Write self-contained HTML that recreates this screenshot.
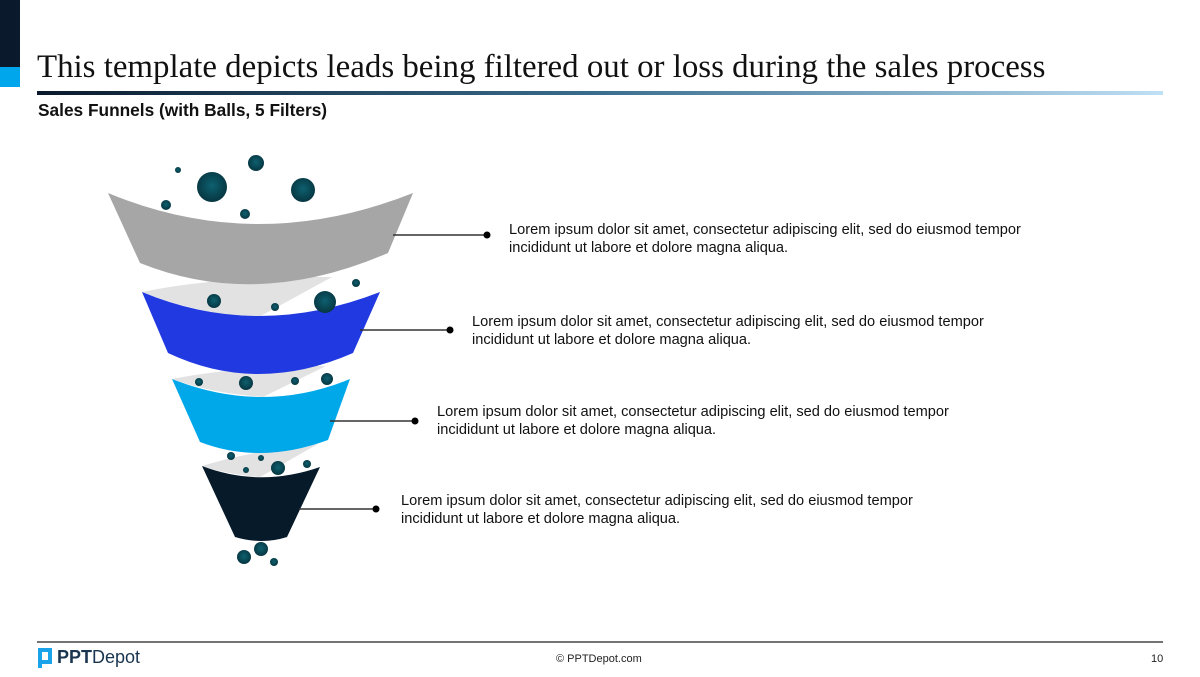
<!DOCTYPE html>
<html><head><meta charset="utf-8"><style>
body{margin:0;width:1200px;height:677px;background:#fff;position:relative;overflow:hidden;font-family:"Liberation Sans",sans-serif;}
.t{position:absolute;font-size:14.6px;line-height:18px;color:#111;white-space:nowrap}
</style></head><body>
<div style="position:absolute;left:0;top:0;width:20px;height:67px;background:#0a1a2c"></div>
<div style="position:absolute;left:0;top:67px;width:20px;height:20px;background:#00a6eb"></div>
<div style="position:absolute;left:37px;top:49px;font-family:'Liberation Serif',serif;font-size:32.9px;color:#111;white-space:nowrap">This template depicts leads being filtered out or loss during the sales process</div>
<div style="position:absolute;left:37px;top:91px;width:1126px;height:4px;background:linear-gradient(90deg,#0a1a2c,#3a6e8e 50%,#bfe0f5)"></div>
<div style="position:absolute;left:38px;top:100px;font-size:17.3px;font-weight:bold;color:#111;white-space:nowrap">Sales Funnels (with Balls, 5 Filters)</div>
<svg style="position:absolute;left:0;top:0" width="1200" height="677">
<defs><radialGradient id="b" cx="50%" cy="45%" r="55%"><stop offset="0" stop-color="#0e6070"/><stop offset="1" stop-color="#063640"/></radialGradient></defs>
<g fill="#e2e2e2">
<path d="M142,292 Q220,276 332,277 L257,318 Q190,312 142,292Z"/>
<path d="M172,379 Q240,366 326,366 L263,397 Q210,393 172,379Z"/>
<path d="M202,466 Q250,451 318,444 L260,477 Q225,474 202,466Z"/>
</g>
<path d="M108,193 Q257,255 413,193 L388,253 Q257,310 140,263 Z" fill="#a6a6a6"/>
<path d="M142,292 Q257,340 380,292 L353,353 Q257,395 168,353 Z" fill="#2139e0"/>
<path d="M172,379 Q263,415 350,379 L328,440 Q260,465 200,442 Z" fill="#00a8ea"/>
<path d="M202,466 Q260,488 320,467 L287,537 Q262,545 235,537 Z" fill="#061a2a"/>
<g fill="url(#b)">
<circle cx="178" cy="170" r="3"/><circle cx="256" cy="163" r="8"/><circle cx="212" cy="187" r="15"/><circle cx="303" cy="190" r="12"/><circle cx="166" cy="205" r="5"/><circle cx="245" cy="214" r="5"/><circle cx="356" cy="283" r="4"/><circle cx="214" cy="301" r="7"/><circle cx="275" cy="307" r="4"/><circle cx="325" cy="302" r="11"/><circle cx="199" cy="382" r="4"/><circle cx="246" cy="383" r="7"/><circle cx="295" cy="381" r="4"/><circle cx="327" cy="379" r="6"/><circle cx="231" cy="456" r="4"/><circle cx="261" cy="458" r="3"/><circle cx="278" cy="468" r="7"/><circle cx="246" cy="470" r="3"/><circle cx="307" cy="464" r="4"/><circle cx="244" cy="557" r="7"/><circle cx="261" cy="549" r="7"/><circle cx="274" cy="562" r="4"/>
</g>
<g stroke="#333" stroke-width="1.5" fill="#000">
<line x1="393" y1="235" x2="487" y2="235"/><circle cx="487" cy="235" r="3.5" stroke="none"/>
<line x1="360" y1="330" x2="450" y2="330"/><circle cx="450" cy="330" r="3.5" stroke="none"/>
<line x1="330" y1="421" x2="415" y2="421"/><circle cx="415" cy="421" r="3.5" stroke="none"/>
<line x1="299" y1="509" x2="376" y2="509"/><circle cx="376" cy="509" r="3.5" stroke="none"/>
</g>
<line x1="37" y1="642" x2="1163" y2="642" stroke="#222" stroke-width="1.2"/>
<path d="M38,648 h14 v16 h-10 v4 h-4z" fill="#1aa3e8"/><path d="M42,652 h6 v8 h-6z" fill="#fff"/>
</svg>
<div class="t" style="left:509px;top:221px">Lorem ipsum dolor sit amet, consectetur adipiscing elit, sed do eiusmod tempor<br>incididunt ut labore et dolore magna aliqua.</div>
<div class="t" style="left:472px;top:313px">Lorem ipsum dolor sit amet, consectetur adipiscing elit, sed do eiusmod tempor<br>incididunt ut labore et dolore magna aliqua.</div>
<div class="t" style="left:437px;top:403px">Lorem ipsum dolor sit amet, consectetur adipiscing elit, sed do eiusmod tempor<br>incididunt ut labore et dolore magna aliqua.</div>
<div class="t" style="left:401px;top:492px">Lorem ipsum dolor sit amet, consectetur adipiscing elit, sed do eiusmod tempor<br>incididunt ut labore et dolore magna aliqua.</div>
<div style="position:absolute;left:57px;top:647px;font-size:18px;color:#1a3550"><b>PPT</b>Depot</div>
<div style="position:absolute;left:556px;top:653px;font-size:11px;color:#222">© PPTDepot.com</div>
<div style="position:absolute;left:1151px;top:653px;font-size:11px;color:#222">10</div>
</body></html>
